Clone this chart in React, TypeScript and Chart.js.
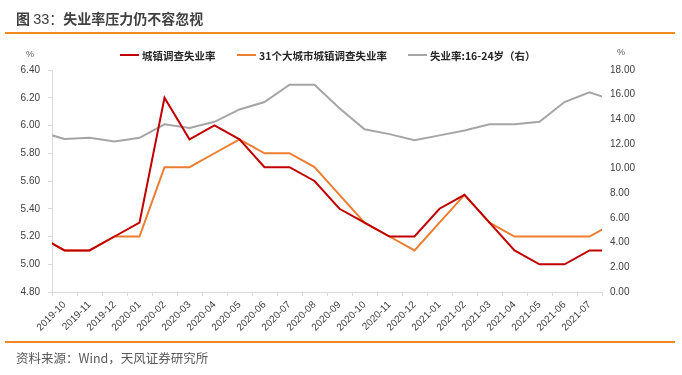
import React, { useEffect, useRef } from "react";
import { Chart, registerables } from "chart.js";

Chart.register(...registerables);

// Months incl. one month on each side (drawn only up to the plot edges)
const months = [
  "2019-09", "2019-10", "2019-11", "2019-12",
  "2020-01", "2020-02", "2020-03", "2020-04", "2020-05", "2020-06",
  "2020-07", "2020-08", "2020-09", "2020-10", "2020-11", "2020-12",
  "2021-01", "2021-02", "2021-03", "2021-04", "2021-05", "2021-06",
  "2021-07", "2021-08",
];
const shownMonths = months.slice(1, 23);

const urbanRate = [5.2, 5.1, 5.1, 5.2, 5.3, 6.2, 5.9, 6.0, 5.9, 5.7, 5.7, 5.6, 5.4, 5.3, 5.2, 5.2, 5.4, 5.5, 5.3, 5.1, 5.0, 5.0, 5.1, 5.1];
const city31Rate = [5.2, 5.1, 5.1, 5.2, 5.2, 5.7, 5.7, 5.8, 5.9, 5.8, 5.8, 5.7, 5.5, 5.3, 5.2, 5.1, 5.3, 5.5, 5.3, 5.2, 5.2, 5.2, 5.2, 5.3];
const youthRate = [13.0, 12.4, 12.5, 12.2, 12.5, 13.6, 13.3, 13.8, 14.8, 15.4, 16.8, 16.8, 14.9, 13.2, 12.8, 12.3, 12.7, 13.1, 13.6, 13.6, 13.8, 15.4, 16.2, 15.5];

const leftTicks = [4.8, 5.0, 5.2, 5.4, 5.6, 5.8, 6.0, 6.2, 6.4];
const rightTicks = [0, 2, 4, 6, 8, 10, 12, 14, 16, 18];

const seriesNames = ["城镇调查失业率", "31个大城市城镇调查失业率", "失业率:16-24岁（右）"];
const seriesColors = ["#C00000", "#ED7D31", "#A5A5A5"];

const toPoints = (vals: number[]) => vals.map((v, i) => ({ x: i - 1, y: v }));

const CJK = '"Noto Sans CJK SC", "Liberation Sans", sans-serif';
const LATIN = '"Liberation Sans", Arial, sans-serif';

export default function App() {
  const ref = useRef<HTMLCanvasElement | null>(null);

  useEffect(() => {
    if (!ref.current) return;
    const chart = new Chart(ref.current, {
      type: "line",
      data: {
        labels: shownMonths,
        datasets: [
          { label: seriesNames[0], data: toPoints(urbanRate), borderColor: seriesColors[0], backgroundColor: seriesColors[0], borderWidth: 2, pointRadius: 0, yAxisID: "y", xAxisID: "x", tension: 0 },
          { label: seriesNames[1], data: toPoints(city31Rate), borderColor: seriesColors[1], backgroundColor: seriesColors[1], borderWidth: 2, pointRadius: 0, yAxisID: "y", xAxisID: "x", tension: 0 },
          { label: seriesNames[2], data: toPoints(youthRate), borderColor: seriesColors[2], backgroundColor: seriesColors[2], borderWidth: 2, pointRadius: 0, yAxisID: "y1", xAxisID: "x", tension: 0 },
        ],
      },
      options: {
        responsive: false,
        animation: false,
        layout: { padding: { top: 70, left: 0, right: 0, bottom: 0 } },
        plugins: { legend: { display: false }, tooltip: { enabled: false } },
        scales: {
          x: {
            type: "linear",
            display: false,
            min: -0.5,
            max: shownMonths.length - 0.5,
          },
          xl: {
            type: "category",
            position: "bottom",
            offset: true,
            min: shownMonths[0],
            max: shownMonths[shownMonths.length - 1],
            grid: { offset: true, drawOnChartArea: false, drawTicks: true, tickLength: 4, color: "#D9D9D9" },
            border: { display: true, color: "#D9D9D9", width: 1 },
            ticks: { autoSkip: false, minRotation: 45, maxRotation: 45, padding: 3, color: "#404040", font: { family: LATIN, size: 10 } },
            afterFit: (s: any) => { s.height = 83; },
          },
          y: {
            type: "linear",
            position: "left",
            min: leftTicks[0],
            max: leftTicks[leftTicks.length - 1],
            afterBuildTicks: (s: any) => { s.ticks = leftTicks.map((v) => ({ value: v })); },
            grid: { drawOnChartArea: false, drawTicks: true, tickLength: 4, color: "#D9D9D9" },
            border: { display: true, color: "#D9D9D9", width: 1 },
            ticks: { padding: 8, color: "#404040", font: { family: LATIN, size: 10 }, callback: (v: any) => Number(v).toFixed(2) },
            afterFit: (s: any) => { s.width = 52; },
          },
          y1: {
            type: "linear",
            position: "right",
            min: rightTicks[0],
            max: rightTicks[rightTicks.length - 1],
            afterBuildTicks: (s: any) => { s.ticks = rightTicks.map((v) => ({ value: v })); },
            grid: { drawOnChartArea: false, drawTicks: false },
            border: { display: false },
            ticks: { padding: 8, color: "#404040", font: { family: LATIN, size: 10 }, callback: (v: any) => Number(v).toFixed(2) },
            afterFit: (s: any) => { s.width = 80; },
          },
        },
      } as any,
    });
    return () => chart.destroy();
  }, []);

  const legendLeft = [120, 237, 408];

  return (
    <div style={{ position: "absolute", left: 0, top: 0, width: 682, height: 375, background: "#fff", overflow: "hidden" }}>
      <canvas ref={ref} width={682} height={375} style={{ position: "absolute", left: 0, top: 0, width: 682, height: 375 }} />
      <div style={{ position: "absolute", left: 16, top: 8, fontFamily: CJK, fontWeight: 700, fontSize: 14, lineHeight: "20px", color: "#404040", whiteSpace: "nowrap" }}>
        图 <span style={{ fontFamily: LATIN, fontWeight: 400, fontSize: 14.5 }}>33</span><span style={{ fontWeight: 400 }}>：</span>失业率压力仍不容忽视
      </div>
      <div style={{ position: "absolute", left: 5, top: 32, width: 670, height: 2, background: "#EE8A1F" }} />
      {seriesNames.map((n, i) => (
        <div key={n} style={{ position: "absolute", left: legendLeft[i], top: 46, height: 18, display: "flex", alignItems: "center", whiteSpace: "nowrap" }}>
          <div style={{ width: 19, height: 2, background: seriesColors[i], marginRight: 3 }} />
          <span style={{ fontFamily: CJK, fontWeight: 700, fontSize: 10.5, color: "#262626" }}>{n}</span>
        </div>
      ))}
      <div style={{ position: "absolute", left: 26, top: 49, fontFamily: LATIN, fontSize: 9, color: "#595959" }}>%</div>
      <div style={{ position: "absolute", left: 617, top: 47, fontFamily: LATIN, fontSize: 9, color: "#595959" }}>%</div>
      <div style={{ position: "absolute", left: 5, top: 341, width: 670, height: 2, background: "#EE8A1F" }} />
      <div style={{ position: "absolute", left: 16, top: 350, fontFamily: CJK, fontSize: 12.5, lineHeight: "16px", color: "#595959", whiteSpace: "nowrap" }}>
        资料来源：Wind，天风证券研究所
      </div>
    </div>
  );
}
